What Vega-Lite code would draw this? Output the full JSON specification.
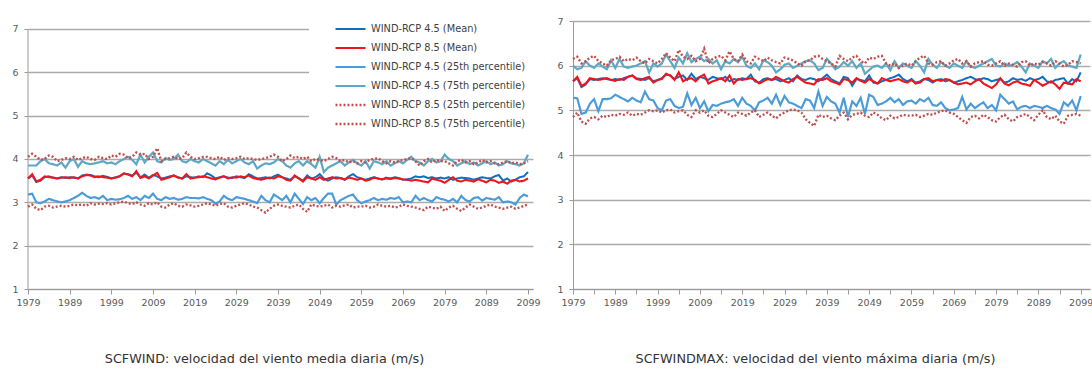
{
  "$schema": "https://vega.github.io/schema/vega-lite/v6.json",
  "background": "white",
  "padding": {"left": 11, "top": 8, "right": 0, "bottom": 0},
  "config": {
    "view": {"stroke": null},
    "axis": {"labelFont": "DejaVu Sans", "labelFontSize": 9.5, "labelColor": "#595959", "domainColor": "#9a9a9a", "tickColor": "#9a9a9a", "gridColor": "#ababab", "gridWidth": 1.5, "title": null}
  },
  "datasets": {
    "L": [
      {"yr":1979,"m45":3.55,"m85":3.55,"a":3.18,"b":3.85,"c":2.90,"d":4.05},
      {"yr":1980,"m45":3.62,"m85":3.65,"a":3.20,"b":3.85,"c":2.95,"d":4.12},
      {"yr":1981,"m45":3.47,"m85":3.48,"a":3.00,"b":3.85,"c":2.85,"d":4.05},
      {"yr":1982,"m45":3.50,"m85":3.52,"a":2.98,"b":3.95,"c":2.82,"d":3.98},
      {"yr":1983,"m45":3.58,"m85":3.60,"a":3.02,"b":4.00,"c":2.90,"d":4.00},
      {"yr":1984,"m45":3.60,"m85":3.58,"a":3.08,"b":3.90,"c":2.92,"d":4.08},
      {"yr":1985,"m45":3.57,"m85":3.57,"a":3.05,"b":3.88,"c":2.88,"d":4.05},
      {"yr":1986,"m45":3.55,"m85":3.55,"a":3.02,"b":3.85,"c":2.90,"d":3.95},
      {"yr":1987,"m45":3.58,"m85":3.57,"a":3.00,"b":3.92,"c":2.92,"d":3.98},
      {"yr":1988,"m45":3.56,"m85":3.58,"a":3.02,"b":3.80,"c":2.90,"d":4.02},
      {"yr":1989,"m45":3.58,"m85":3.56,"a":3.05,"b":3.95,"c":2.92,"d":4.00},
      {"yr":1990,"m45":3.57,"m85":3.58,"a":3.10,"b":4.00,"c":2.95,"d":4.05},
      {"yr":1991,"m45":3.55,"m85":3.55,"a":3.15,"b":3.82,"c":2.93,"d":3.98},
      {"yr":1992,"m45":3.62,"m85":3.60,"a":3.22,"b":3.95,"c":2.95,"d":4.02},
      {"yr":1993,"m45":3.64,"m85":3.63,"a":3.15,"b":3.90,"c":2.92,"d":4.05},
      {"yr":1994,"m45":3.63,"m85":3.62,"a":3.10,"b":3.88,"c":2.98,"d":4.00},
      {"yr":1995,"m45":3.60,"m85":3.58,"a":3.12,"b":3.90,"c":2.95,"d":3.98},
      {"yr":1996,"m45":3.58,"m85":3.60,"a":3.08,"b":3.92,"c":2.97,"d":4.05},
      {"yr":1997,"m45":3.61,"m85":3.58,"a":3.15,"b":3.95,"c":2.96,"d":4.02},
      {"yr":1998,"m45":3.59,"m85":3.57,"a":3.05,"b":3.90,"c":2.98,"d":4.00},
      {"yr":1999,"m45":3.55,"m85":3.55,"a":3.08,"b":3.92,"c":2.95,"d":4.08},
      {"yr":2000,"m45":3.58,"m85":3.57,"a":3.06,"b":3.88,"c":2.98,"d":4.05},
      {"yr":2001,"m45":3.60,"m85":3.60,"a":3.07,"b":3.95,"c":3.00,"d":4.12},
      {"yr":2002,"m45":3.66,"m85":3.67,"a":3.10,"b":4.00,"c":3.02,"d":4.10},
      {"yr":2003,"m45":3.65,"m85":3.64,"a":3.15,"b":4.05,"c":2.98,"d":4.02},
      {"yr":2004,"m45":3.62,"m85":3.60,"a":3.08,"b":3.98,"c":2.96,"d":4.05},
      {"yr":2005,"m45":3.68,"m85":3.72,"a":3.12,"b":3.88,"c":3.00,"d":4.15},
      {"yr":2006,"m45":3.58,"m85":3.56,"a":3.05,"b":4.10,"c":2.95,"d":4.10},
      {"yr":2007,"m45":3.64,"m85":3.60,"a":3.15,"b":3.92,"c":2.92,"d":4.12},
      {"yr":2008,"m45":3.57,"m85":3.55,"a":3.10,"b":4.05,"c":2.98,"d":4.00},
      {"yr":2009,"m45":3.63,"m85":3.62,"a":3.20,"b":4.15,"c":2.95,"d":4.05},
      {"yr":2010,"m45":3.60,"m85":3.68,"a":3.08,"b":3.95,"c":3.00,"d":4.25},
      {"yr":2011,"m45":3.55,"m85":3.52,"a":3.05,"b":3.92,"c":2.90,"d":3.95},
      {"yr":2012,"m45":3.57,"m85":3.55,"a":3.12,"b":4.02,"c":2.88,"d":4.00},
      {"yr":2013,"m45":3.60,"m85":3.58,"a":3.08,"b":3.98,"c":2.95,"d":4.02},
      {"yr":2014,"m45":3.62,"m85":3.62,"a":3.10,"b":4.00,"c":2.98,"d":4.05},
      {"yr":2015,"m45":3.58,"m85":3.57,"a":3.06,"b":4.10,"c":2.92,"d":4.00},
      {"yr":2016,"m45":3.55,"m85":3.55,"a":3.08,"b":3.95,"c":2.90,"d":4.02},
      {"yr":2017,"m45":3.60,"m85":3.65,"a":3.12,"b":3.92,"c":2.95,"d":4.15},
      {"yr":2018,"m45":3.58,"m85":3.55,"a":3.10,"b":4.00,"c":2.93,"d":4.05},
      {"yr":2019,"m45":3.57,"m85":3.57,"a":3.10,"b":3.95,"c":2.90,"d":4.00},
      {"yr":2020,"m45":3.60,"m85":3.58,"a":3.09,"b":3.92,"c":2.92,"d":4.02},
      {"yr":2021,"m45":3.58,"m85":3.60,"a":3.12,"b":4.00,"c":2.95,"d":4.05},
      {"yr":2022,"m45":3.67,"m85":3.58,"a":3.08,"b":3.95,"c":2.98,"d":4.05},
      {"yr":2023,"m45":3.62,"m85":3.55,"a":3.05,"b":3.90,"c":2.95,"d":4.02},
      {"yr":2024,"m45":3.55,"m85":3.53,"a":2.97,"b":3.85,"c":2.92,"d":4.00},
      {"yr":2025,"m45":3.58,"m85":3.57,"a":3.02,"b":3.95,"c":2.96,"d":4.05},
      {"yr":2026,"m45":3.60,"m85":3.60,"a":3.15,"b":3.88,"c":2.98,"d":3.98},
      {"yr":2027,"m45":3.57,"m85":3.55,"a":3.08,"b":3.98,"c":2.90,"d":4.02},
      {"yr":2028,"m45":3.56,"m85":3.58,"a":3.05,"b":3.90,"c":2.88,"d":4.00},
      {"yr":2029,"m45":3.60,"m85":3.57,"a":3.12,"b":3.95,"c":2.92,"d":4.02},
      {"yr":2030,"m45":3.58,"m85":3.60,"a":3.10,"b":4.00,"c":2.95,"d":4.05},
      {"yr":2031,"m45":3.56,"m85":3.58,"a":3.08,"b":3.92,"c":2.98,"d":4.00},
      {"yr":2032,"m45":3.65,"m85":3.62,"a":3.05,"b":3.88,"c":2.95,"d":4.02},
      {"yr":2033,"m45":3.60,"m85":3.56,"a":3.02,"b":3.95,"c":2.90,"d":4.00},
      {"yr":2034,"m45":3.55,"m85":3.54,"a":2.98,"b":3.78,"c":2.88,"d":3.98},
      {"yr":2035,"m45":3.56,"m85":3.52,"a":3.15,"b":3.85,"c":2.82,"d":4.00},
      {"yr":2036,"m45":3.58,"m85":3.55,"a":3.05,"b":3.90,"c":2.76,"d":4.02},
      {"yr":2037,"m45":3.55,"m85":3.57,"a":3.00,"b":3.88,"c":2.85,"d":4.05},
      {"yr":2038,"m45":3.60,"m85":3.55,"a":3.18,"b":3.92,"c":2.92,"d":4.10},
      {"yr":2039,"m45":3.64,"m85":3.60,"a":3.12,"b":4.00,"c":2.95,"d":4.05},
      {"yr":2040,"m45":3.58,"m85":3.58,"a":3.05,"b":3.95,"c":2.92,"d":3.95},
      {"yr":2041,"m45":3.55,"m85":3.52,"a":3.15,"b":3.85,"c":2.90,"d":4.00},
      {"yr":2042,"m45":3.52,"m85":3.50,"a":3.00,"b":3.80,"c":2.88,"d":4.08},
      {"yr":2043,"m45":3.60,"m85":3.62,"a":3.20,"b":3.90,"c":2.92,"d":4.02},
      {"yr":2044,"m45":3.56,"m85":3.55,"a":3.08,"b":3.95,"c":2.95,"d":4.05},
      {"yr":2045,"m45":3.50,"m85":3.48,"a":2.96,"b":3.85,"c":2.85,"d":4.00},
      {"yr":2046,"m45":3.62,"m85":3.58,"a":3.12,"b":3.95,"c":2.78,"d":4.05},
      {"yr":2047,"m45":3.55,"m85":3.55,"a":3.05,"b":3.88,"c":2.95,"d":3.95},
      {"yr":2048,"m45":3.58,"m85":3.52,"a":3.10,"b":3.80,"c":2.92,"d":4.00},
      {"yr":2049,"m45":3.65,"m85":3.58,"a":2.98,"b":4.05,"c":2.90,"d":3.98},
      {"yr":2050,"m45":3.55,"m85":3.52,"a":3.10,"b":3.70,"c":2.92,"d":3.95},
      {"yr":2051,"m45":3.50,"m85":3.55,"a":3.20,"b":3.80,"c":2.95,"d":4.00},
      {"yr":2052,"m45":3.55,"m85":3.58,"a":3.20,"b":3.85,"c":2.88,"d":4.05},
      {"yr":2053,"m45":3.58,"m85":3.55,"a":2.95,"b":3.90,"c":2.92,"d":4.02},
      {"yr":2054,"m45":3.56,"m85":3.56,"a":3.05,"b":3.95,"c":2.90,"d":3.95},
      {"yr":2055,"m45":3.52,"m85":3.53,"a":3.10,"b":3.85,"c":2.93,"d":3.98},
      {"yr":2056,"m45":3.60,"m85":3.57,"a":3.15,"b":3.92,"c":2.95,"d":3.92},
      {"yr":2057,"m45":3.65,"m85":3.55,"a":3.18,"b":3.98,"c":2.88,"d":3.95},
      {"yr":2058,"m45":3.58,"m85":3.52,"a":3.05,"b":3.90,"c":2.90,"d":3.90},
      {"yr":2059,"m45":3.55,"m85":3.55,"a":2.98,"b":3.85,"c":2.90,"d":3.95},
      {"yr":2060,"m45":3.52,"m85":3.50,"a":3.02,"b":3.95,"c":2.92,"d":3.92},
      {"yr":2061,"m45":3.55,"m85":3.52,"a":3.05,"b":3.78,"c":2.88,"d":3.98},
      {"yr":2062,"m45":3.58,"m85":3.57,"a":3.10,"b":3.95,"c":2.90,"d":4.00},
      {"yr":2063,"m45":3.55,"m85":3.55,"a":3.05,"b":3.92,"c":2.95,"d":4.02},
      {"yr":2064,"m45":3.53,"m85":3.53,"a":3.08,"b":3.88,"c":2.92,"d":3.95},
      {"yr":2065,"m45":3.57,"m85":3.55,"a":3.06,"b":3.95,"c":2.90,"d":3.90},
      {"yr":2066,"m45":3.55,"m85":3.54,"a":3.10,"b":3.85,"c":2.92,"d":3.95},
      {"yr":2067,"m45":3.58,"m85":3.56,"a":3.08,"b":3.90,"c":2.88,"d":3.92},
      {"yr":2068,"m45":3.56,"m85":3.55,"a":3.12,"b":3.95,"c":2.90,"d":3.95},
      {"yr":2069,"m45":3.52,"m85":3.53,"a":3.00,"b":3.90,"c":2.95,"d":3.98},
      {"yr":2070,"m45":3.53,"m85":3.52,"a":3.02,"b":3.98,"c":2.92,"d":4.00},
      {"yr":2071,"m45":3.55,"m85":3.50,"a":3.00,"b":4.05,"c":2.90,"d":4.02},
      {"yr":2072,"m45":3.60,"m85":3.52,"a":3.15,"b":3.95,"c":2.88,"d":3.95},
      {"yr":2073,"m45":3.58,"m85":3.50,"a":3.05,"b":3.92,"c":2.85,"d":3.85},
      {"yr":2074,"m45":3.60,"m85":3.48,"a":3.10,"b":3.85,"c":2.82,"d":3.95},
      {"yr":2075,"m45":3.56,"m85":3.46,"a":3.05,"b":3.95,"c":2.90,"d":4.00},
      {"yr":2076,"m45":3.58,"m85":3.55,"a":3.02,"b":4.00,"c":2.88,"d":3.92},
      {"yr":2077,"m45":3.55,"m85":3.52,"a":3.12,"b":3.92,"c":2.85,"d":3.98},
      {"yr":2078,"m45":3.57,"m85":3.50,"a":3.08,"b":3.95,"c":2.90,"d":3.95},
      {"yr":2079,"m45":3.55,"m85":3.45,"a":3.06,"b":4.10,"c":2.80,"d":3.95},
      {"yr":2080,"m45":3.58,"m85":3.52,"a":3.02,"b":4.00,"c":2.88,"d":3.90},
      {"yr":2081,"m45":3.52,"m85":3.58,"a":3.08,"b":3.95,"c":2.92,"d":3.85},
      {"yr":2082,"m45":3.55,"m85":3.50,"a":3.00,"b":3.85,"c":2.85,"d":3.95},
      {"yr":2083,"m45":3.57,"m85":3.48,"a":3.15,"b":3.90,"c":2.80,"d":3.98},
      {"yr":2084,"m45":3.56,"m85":3.52,"a":3.05,"b":3.95,"c":2.88,"d":3.92},
      {"yr":2085,"m45":3.55,"m85":3.50,"a":3.02,"b":3.88,"c":2.95,"d":3.95},
      {"yr":2086,"m45":3.52,"m85":3.48,"a":3.10,"b":3.92,"c":2.90,"d":3.88},
      {"yr":2087,"m45":3.55,"m85":3.53,"a":3.12,"b":3.85,"c":2.85,"d":3.92},
      {"yr":2088,"m45":3.58,"m85":3.50,"a":3.04,"b":3.90,"c":2.88,"d":3.98},
      {"yr":2089,"m45":3.56,"m85":3.46,"a":3.10,"b":3.95,"c":2.92,"d":3.92},
      {"yr":2090,"m45":3.55,"m85":3.52,"a":3.08,"b":3.88,"c":2.95,"d":3.95},
      {"yr":2091,"m45":3.60,"m85":3.50,"a":3.06,"b":3.92,"c":2.90,"d":3.90},
      {"yr":2092,"m45":3.63,"m85":3.45,"a":3.12,"b":3.85,"c":2.88,"d":3.88},
      {"yr":2093,"m45":3.50,"m85":3.48,"a":3.00,"b":3.88,"c":2.85,"d":3.92},
      {"yr":2094,"m45":3.55,"m85":3.43,"a":3.02,"b":3.95,"c":2.88,"d":3.95},
      {"yr":2095,"m45":3.48,"m85":3.50,"a":3.00,"b":3.90,"c":2.90,"d":3.90},
      {"yr":2096,"m45":3.52,"m85":3.52,"a":2.95,"b":3.88,"c":2.85,"d":3.92},
      {"yr":2097,"m45":3.58,"m85":3.48,"a":3.10,"b":3.85,"c":2.88,"d":3.88},
      {"yr":2098,"m45":3.60,"m85":3.50,"a":3.18,"b":3.90,"c":2.92,"d":3.90},
      {"yr":2099,"m45":3.70,"m85":3.55,"a":3.14,"b":4.10,"c":2.95,"d":3.95}
    ],
    "R": [
      {"yr":1979,"m45":5.65,"m85":5.65,"a":5.28,"b":6.00,"c":4.85,"d":6.15},
      {"yr":1980,"m45":5.72,"m85":5.75,"a":5.27,"b":5.92,"c":4.95,"d":6.20},
      {"yr":1981,"m45":5.52,"m85":5.55,"a":4.92,"b":5.95,"c":4.75,"d":6.05},
      {"yr":1982,"m45":5.58,"m85":5.60,"a":4.95,"b":6.10,"c":4.70,"d":6.10},
      {"yr":1983,"m45":5.70,"m85":5.72,"a":5.15,"b":6.00,"c":4.82,"d":6.18},
      {"yr":1984,"m45":5.68,"m85":5.70,"a":5.25,"b":5.95,"c":4.85,"d":6.22},
      {"yr":1985,"m45":5.70,"m85":5.68,"a":4.98,"b":6.05,"c":4.80,"d":6.10},
      {"yr":1986,"m45":5.72,"m85":5.70,"a":5.25,"b":5.98,"c":4.88,"d":6.05},
      {"yr":1987,"m45":5.70,"m85":5.72,"a":5.25,"b":5.92,"c":4.85,"d":6.00},
      {"yr":1988,"m45":5.68,"m85":5.68,"a":5.27,"b":6.12,"c":4.90,"d":6.12},
      {"yr":1989,"m45":5.70,"m85":5.66,"a":5.35,"b":5.95,"c":4.88,"d":6.15},
      {"yr":1990,"m45":5.68,"m85":5.70,"a":5.30,"b":6.15,"c":4.92,"d":6.20},
      {"yr":1991,"m45":5.72,"m85":5.68,"a":5.25,"b":5.98,"c":4.90,"d":6.10},
      {"yr":1992,"m45":5.75,"m85":5.75,"a":5.20,"b":5.95,"c":4.95,"d":6.15},
      {"yr":1993,"m45":5.78,"m85":5.78,"a":5.28,"b":5.98,"c":4.88,"d":6.12},
      {"yr":1994,"m45":5.72,"m85":5.70,"a":5.22,"b":6.00,"c":4.92,"d":6.18},
      {"yr":1995,"m45":5.70,"m85":5.68,"a":5.18,"b":6.05,"c":4.90,"d":6.10},
      {"yr":1996,"m45":5.68,"m85":5.72,"a":5.42,"b":6.10,"c":4.95,"d":6.05},
      {"yr":1997,"m45":5.72,"m85":5.75,"a":5.25,"b":5.85,"c":5.00,"d":6.15},
      {"yr":1998,"m45":5.65,"m85":5.62,"a":5.22,"b":6.05,"c":4.98,"d":6.10},
      {"yr":1999,"m45":5.68,"m85":5.68,"a":5.05,"b":5.98,"c":5.00,"d":6.05},
      {"yr":2000,"m45":5.72,"m85":5.70,"a":5.00,"b":6.05,"c":4.95,"d":6.15},
      {"yr":2001,"m45":5.80,"m85":5.82,"a":5.22,"b":6.25,"c":5.00,"d":6.28},
      {"yr":2002,"m45":5.78,"m85":5.78,"a":5.25,"b":6.10,"c":5.02,"d":6.18},
      {"yr":2003,"m45":5.70,"m85":5.68,"a":5.10,"b":5.95,"c":4.95,"d":6.10},
      {"yr":2004,"m45":5.75,"m85":5.85,"a":5.05,"b":6.18,"c":4.98,"d":6.35},
      {"yr":2005,"m45":5.78,"m85":5.65,"a":5.08,"b":6.05,"c":5.00,"d":6.20},
      {"yr":2006,"m45":5.68,"m85":5.70,"a":5.38,"b":6.28,"c":4.90,"d":6.15},
      {"yr":2007,"m45":5.82,"m85":5.72,"a":5.12,"b":6.08,"c":4.85,"d":6.22},
      {"yr":2008,"m45":5.70,"m85":5.65,"a":5.28,"b":6.15,"c":5.00,"d":6.10},
      {"yr":2009,"m45":5.75,"m85":5.75,"a":5.05,"b":6.20,"c":4.95,"d":6.15},
      {"yr":2010,"m45":5.72,"m85":5.80,"a":5.20,"b":6.10,"c":5.00,"d":6.38},
      {"yr":2011,"m45":5.68,"m85":5.60,"a":4.98,"b":6.15,"c":4.88,"d":6.05},
      {"yr":2012,"m45":5.75,"m85":5.65,"a":5.12,"b":6.05,"c":4.85,"d":6.15},
      {"yr":2013,"m45":5.72,"m85":5.68,"a":5.10,"b":6.12,"c":4.92,"d":6.20},
      {"yr":2014,"m45":5.70,"m85":5.72,"a":5.15,"b":5.92,"c":5.00,"d":6.22},
      {"yr":2015,"m45":5.75,"m85":5.65,"a":5.18,"b":6.10,"c":4.95,"d":6.12},
      {"yr":2016,"m45":5.65,"m85":5.78,"a":5.20,"b":6.05,"c":4.90,"d":6.32},
      {"yr":2017,"m45":5.70,"m85":5.60,"a":5.25,"b":6.15,"c":4.85,"d":6.15},
      {"yr":2018,"m45":5.68,"m85":5.70,"a":5.10,"b":6.08,"c":4.95,"d":6.10},
      {"yr":2019,"m45":5.72,"m85":5.68,"a":5.28,"b":6.20,"c":4.92,"d":6.25},
      {"yr":2020,"m45":5.70,"m85":5.70,"a":5.15,"b":6.00,"c":4.88,"d":6.10},
      {"yr":2021,"m45":5.80,"m85":5.72,"a":5.10,"b":5.95,"c":4.95,"d":6.05},
      {"yr":2022,"m45":5.65,"m85":5.68,"a":5.00,"b":6.05,"c":5.00,"d":6.20},
      {"yr":2023,"m45":5.62,"m85":5.60,"a":5.18,"b":5.92,"c":4.85,"d":6.15},
      {"yr":2024,"m45":5.70,"m85":5.65,"a":5.22,"b":6.12,"c":4.90,"d":6.10},
      {"yr":2025,"m45":5.72,"m85":5.70,"a":5.28,"b":6.08,"c":4.95,"d":6.18},
      {"yr":2026,"m45":5.68,"m85":5.68,"a":5.15,"b":6.00,"c":4.88,"d":6.12},
      {"yr":2027,"m45":5.70,"m85":5.75,"a":5.35,"b":5.85,"c":4.82,"d":6.08},
      {"yr":2028,"m45":5.65,"m85":5.70,"a":5.12,"b":5.92,"c":4.90,"d":6.05},
      {"yr":2029,"m45":5.68,"m85":5.65,"a":5.32,"b":6.02,"c":4.95,"d":6.18},
      {"yr":2030,"m45":5.72,"m85":5.62,"a":5.18,"b":6.05,"c":5.00,"d":6.15},
      {"yr":2031,"m45":5.65,"m85":5.70,"a":5.15,"b":5.95,"c":5.02,"d":6.12},
      {"yr":2032,"m45":5.78,"m85":5.75,"a":5.10,"b":6.00,"c":5.00,"d":6.05},
      {"yr":2033,"m45":5.70,"m85":5.68,"a":5.05,"b":6.05,"c":4.95,"d":6.00},
      {"yr":2034,"m45":5.68,"m85":5.62,"a":5.25,"b":6.10,"c":4.80,"d":6.10},
      {"yr":2035,"m45":5.72,"m85":5.60,"a":5.22,"b":6.12,"c":4.72,"d":6.12},
      {"yr":2036,"m45":5.70,"m85":5.58,"a":5.05,"b":6.05,"c":4.65,"d":6.20},
      {"yr":2037,"m45":5.65,"m85":5.70,"a":5.42,"b":5.90,"c":4.90,"d":6.22},
      {"yr":2038,"m45":5.72,"m85":5.68,"a":5.10,"b":5.95,"c":4.85,"d":6.15},
      {"yr":2039,"m45":5.80,"m85":5.72,"a":5.30,"b":6.15,"c":4.88,"d":6.10},
      {"yr":2040,"m45":5.70,"m85":5.65,"a":5.20,"b":6.05,"c":4.82,"d":6.05},
      {"yr":2041,"m45":5.65,"m85":5.62,"a":5.15,"b":5.92,"c":4.78,"d":5.98},
      {"yr":2042,"m45":5.60,"m85":5.58,"a":4.95,"b":5.98,"c":4.88,"d":6.22},
      {"yr":2043,"m45":5.75,"m85":5.70,"a":5.28,"b":6.08,"c":4.95,"d":6.15},
      {"yr":2044,"m45":5.72,"m85":5.68,"a":4.85,"b":6.00,"c":4.80,"d":6.10},
      {"yr":2045,"m45":5.55,"m85":5.62,"a":5.20,"b":6.10,"c":4.90,"d":6.18},
      {"yr":2046,"m45":5.70,"m85":5.72,"a":5.10,"b":5.95,"c":4.92,"d":6.22},
      {"yr":2047,"m45":5.68,"m85":5.66,"a":5.28,"b":6.05,"c":4.95,"d":6.10},
      {"yr":2048,"m45":5.65,"m85":5.62,"a":4.92,"b":5.82,"c":4.88,"d":6.05},
      {"yr":2049,"m45":5.78,"m85":5.70,"a":5.35,"b":5.90,"c":4.85,"d":6.18},
      {"yr":2050,"m45":5.62,"m85":5.65,"a":5.30,"b":5.98,"c":4.95,"d":6.15},
      {"yr":2051,"m45":5.60,"m85":5.60,"a":5.12,"b":6.00,"c":4.90,"d":6.20},
      {"yr":2052,"m45":5.65,"m85":5.72,"a":5.15,"b":5.95,"c":4.82,"d":6.22},
      {"yr":2053,"m45":5.68,"m85":5.68,"a":5.20,"b":6.05,"c":4.78,"d":6.05},
      {"yr":2054,"m45":5.72,"m85":5.65,"a":5.28,"b":5.90,"c":4.88,"d":6.00},
      {"yr":2055,"m45":5.75,"m85":5.68,"a":5.18,"b":6.10,"c":4.82,"d":6.05},
      {"yr":2056,"m45":5.80,"m85":5.70,"a":5.25,"b":5.95,"c":4.85,"d":5.95},
      {"yr":2057,"m45":5.70,"m85":5.65,"a":5.12,"b":6.05,"c":4.90,"d":6.00},
      {"yr":2058,"m45":5.65,"m85":5.62,"a":5.20,"b":6.00,"c":4.88,"d":6.05},
      {"yr":2059,"m45":5.70,"m85":5.68,"a":5.22,"b":5.95,"c":4.88,"d":6.00},
      {"yr":2060,"m45":5.62,"m85":5.60,"a":5.15,"b":6.10,"c":4.90,"d":6.10},
      {"yr":2061,"m45":5.65,"m85":5.62,"a":5.25,"b":6.00,"c":4.85,"d":6.18},
      {"yr":2062,"m45":5.70,"m85":5.70,"a":5.20,"b":5.85,"c":4.88,"d":6.22},
      {"yr":2063,"m45":5.68,"m85":5.72,"a":5.28,"b":6.15,"c":4.92,"d":6.05},
      {"yr":2064,"m45":5.62,"m85":5.65,"a":5.12,"b":6.02,"c":4.90,"d":6.02},
      {"yr":2065,"m45":5.68,"m85":5.68,"a":5.10,"b":5.95,"c":4.95,"d":6.08},
      {"yr":2066,"m45":5.70,"m85":5.66,"a":5.18,"b":6.08,"c":4.98,"d":6.10},
      {"yr":2067,"m45":5.65,"m85":5.70,"a":5.05,"b":6.00,"c":5.00,"d":6.00},
      {"yr":2068,"m45":5.68,"m85":5.68,"a":5.00,"b":5.95,"c":4.95,"d":6.05},
      {"yr":2069,"m45":5.62,"m85":5.62,"a":5.02,"b":6.05,"c":4.92,"d":6.12},
      {"yr":2070,"m45":5.65,"m85":5.58,"a":5.05,"b":6.00,"c":4.85,"d":6.15},
      {"yr":2071,"m45":5.68,"m85":5.60,"a":5.30,"b":5.95,"c":4.78,"d":6.05},
      {"yr":2072,"m45":5.72,"m85":5.62,"a":5.02,"b":6.10,"c":4.72,"d":6.10},
      {"yr":2073,"m45":5.75,"m85":5.58,"a":5.15,"b":5.98,"c":4.85,"d":5.98},
      {"yr":2074,"m45":5.70,"m85":5.65,"a":5.05,"b":5.95,"c":4.88,"d":6.05},
      {"yr":2075,"m45":5.68,"m85":5.70,"a":5.12,"b":6.00,"c":4.82,"d":6.08},
      {"yr":2076,"m45":5.72,"m85":5.60,"a":5.18,"b":6.05,"c":4.90,"d":6.10},
      {"yr":2077,"m45":5.70,"m85":5.55,"a":5.05,"b":6.10,"c":4.85,"d":6.02},
      {"yr":2078,"m45":5.65,"m85":5.50,"a":5.12,"b":6.15,"c":4.78,"d":6.00},
      {"yr":2079,"m45":5.68,"m85":5.58,"a":5.00,"b":6.00,"c":4.75,"d":6.05},
      {"yr":2080,"m45":5.70,"m85":5.72,"a":5.35,"b":5.98,"c":4.85,"d":6.10},
      {"yr":2081,"m45":5.62,"m85":5.60,"a":5.25,"b":6.05,"c":4.90,"d":6.00},
      {"yr":2082,"m45":5.65,"m85":5.56,"a":5.15,"b":6.00,"c":4.80,"d":6.05},
      {"yr":2083,"m45":5.72,"m85":5.62,"a":5.20,"b":6.02,"c":4.75,"d":6.02},
      {"yr":2084,"m45":5.68,"m85":5.65,"a":5.02,"b":6.08,"c":4.85,"d":5.98},
      {"yr":2085,"m45":5.70,"m85":5.60,"a":5.08,"b":5.98,"c":4.88,"d":6.08},
      {"yr":2086,"m45":5.66,"m85":5.58,"a":5.10,"b":5.85,"c":4.92,"d":6.10},
      {"yr":2087,"m45":5.72,"m85":5.55,"a":5.05,"b":6.05,"c":4.85,"d":6.00},
      {"yr":2088,"m45":5.68,"m85":5.68,"a":5.10,"b":6.00,"c":4.78,"d":6.05},
      {"yr":2089,"m45":5.70,"m85":5.62,"a":5.08,"b":5.95,"c":4.90,"d":6.02},
      {"yr":2090,"m45":5.75,"m85":5.55,"a":5.05,"b":6.10,"c":5.00,"d":6.08},
      {"yr":2091,"m45":5.65,"m85":5.60,"a":5.10,"b":6.05,"c":4.85,"d":6.05},
      {"yr":2092,"m45":5.62,"m85":5.65,"a":5.05,"b":6.15,"c":4.80,"d":6.00},
      {"yr":2093,"m45":5.68,"m85":5.58,"a":5.02,"b":5.95,"c":4.88,"d":6.10},
      {"yr":2094,"m45":5.70,"m85":5.48,"a":4.92,"b":6.05,"c":4.75,"d":6.05},
      {"yr":2095,"m45":5.72,"m85":5.62,"a":5.18,"b":6.10,"c":4.70,"d":5.98},
      {"yr":2096,"m45":5.60,"m85":5.60,"a":5.10,"b":6.00,"c":4.88,"d":6.02},
      {"yr":2097,"m45":5.70,"m85":5.58,"a":5.22,"b":5.98,"c":4.90,"d":6.10},
      {"yr":2098,"m45":5.65,"m85":5.70,"a":5.00,"b":5.95,"c":4.92,"d":6.08},
      {"yr":2099,"m45":5.85,"m85":5.65,"a":5.32,"b":6.25,"c":4.88,"d":6.05}
    ]
  },
  "spacing": 40,
  "bounds": "flush",
  "hconcat": [
    {
      "width": 505,
      "height": 268,
      "title": {"text": "SCFWIND: velocidad del viento media diaria (m/s)", "orient": "bottom", "anchor": "middle", "frame": "group", "dx": -16, "offset": 46, "font": "DejaVu Sans", "fontSize": 12.8, "fontWeight": "normal", "color": "#333333"},
      "layer": [
        {
          "data": {"values": [{}]},
          "mark": {"type": "rule", "color": "#9a9a9a", "strokeWidth": 1},
          "encoding": {"x": {"datum": 1979, "type": "quantitative"}, "y": {"datum": 1, "type": "quantitative"}, "y2": {"datum": 7}}
        },
        {
          "data": {"name": "L"},
          "transform": [{"fold": ["m45", "m85", "a", "b", "c", "d"], "as": ["s", "v"]}],
          "mark": {"type": "line", "interpolate": "linear"},
          "encoding": {
            "x": {"field": "yr", "type": "quantitative", "scale": {"domain": [1979, 2100.2], "nice": false, "zero": false},
                  "axis": {"values": [1979,1984,1989,1994,1999,2004,2009,2014,2019,2024,2029,2034,2039,2044,2049,2054,2059,2064,2069,2074,2079,2084,2089,2094,2099], "labelExpr": "(datum.value - 1979) % 10 == 0 ? datum.value : ''", "labelOverlap": false, "labelFlush": false, "tickSize": 5, "labelPadding": 3, "grid": false, "domain": true}},
            "y": {"field": "v", "type": "quantitative", "scale": {"domain": [1, 7.1846], "nice": false, "zero": false},
                  "axis": {"values": [1,2,3,4,5,6,7], "domain": false, "grid": true, "tickSize": 4, "labelPadding": 6}},
            "color": {"field": "s", "type": "nominal",
                      "scale": {"domain": ["m45", "m85", "a", "b", "c", "d"], "range": ["#0E6FC1", "#F0141C", "#4A9BDA", "#5FA8C4", "#C0504D", "#C0504D"]},
                      "legend": {"title": null, "orient": "none", "legendX": 281, "legendY": -12.3, "fillColor": "white", "padding": 12, "symbolType": "stroke", "symbolSize": 900, "clipHeight": 16.6, "rowPadding": 2, "symbolOffset": 13, "labelOffset": 4, "labelFont": "DejaVu Sans", "labelFontSize": 9.8, "labelColor": "#404040", "labelLimit": 0,
                                 "labelExpr": "datum.value == 'm45' ? 'WIND-RCP 4.5 (Mean)' : datum.value == 'm85' ? 'WIND-RCP 8.5 (Mean)' : datum.value == 'a' ? 'WIND-RCP 4.5 (25th percentile)' : datum.value == 'b' ? 'WIND-RCP 4.5 (75th percentile)' : datum.value == 'c' ? 'WIND-RCP 8.5 (25th percentile)' : 'WIND-RCP 8.5 (75th percentile)'"}},
            "strokeDash": {"field": "s", "type": "nominal", "scale": {"domain": ["m45", "m85", "a", "b", "c", "d"], "range": [[1,0],[1,0],[1,0],[1,0],[2,2],[2,2]]}},
            "strokeWidth": {"field": "s", "type": "nominal", "scale": {"domain": ["m45", "m85", "a", "b", "c", "d"], "range": [2.0, 2.4, 1.0, 1.1, 1.4, 1.4]}}
          }
        }
      ]
    },
    {
      "width": 517,
      "height": 268,
      "title": {"text": "SCFWINDMAX: velocidad del viento máxima diaria (m/s)", "orient": "bottom", "anchor": "middle", "frame": "group", "dx": -16, "offset": 46, "font": "DejaVu Sans", "fontSize": 12.8, "fontWeight": "normal", "color": "#333333"},
      "data": {"name": "R"},
      "transform": [{"fold": ["m45", "m85", "a", "b", "c", "d"], "as": ["s", "v"]}],
      "mark": {"type": "line", "interpolate": "linear"},
      "encoding": {
        "x": {"field": "yr", "type": "quantitative", "scale": {"domain": [1979, 2101.2], "nice": false, "zero": false},
              "axis": {"values": [1979,1984,1989,1994,1999,2004,2009,2014,2019,2024,2029,2034,2039,2044,2049,2054,2059,2064,2069,2074,2079,2084,2089,2094,2099], "labelExpr": "(datum.value - 1979) % 10 == 0 ? datum.value : ''", "labelOverlap": false, "labelFlush": false, "tickSize": 5, "labelPadding": 3, "grid": false, "domain": true}},
        "y": {"field": "v", "type": "quantitative", "scale": {"domain": [1, 7], "nice": false, "zero": false},
              "axis": {"values": [1,2,3,4,5,6,7], "domain": true, "grid": true, "tickSize": 4, "labelPadding": 6}},
        "color": {"field": "s", "type": "nominal", "scale": {"domain": ["m45", "m85", "a", "b", "c", "d"], "range": ["#0E6FC1", "#F0141C", "#4A9BDA", "#5FA8C4", "#C0504D", "#C0504D"]}},
        "strokeDash": {"field": "s", "type": "nominal", "scale": {"domain": ["m45", "m85", "a", "b", "c", "d"], "range": [[1,0],[1,0],[1,0],[1,0],[2,2],[2,2]]}},
        "strokeWidth": {"field": "s", "type": "nominal", "scale": {"domain": ["m45", "m85", "a", "b", "c", "d"], "range": [2.0, 2.4, 1.0, 1.1, 1.4, 1.4]}}
      }
    }
  ]
}
